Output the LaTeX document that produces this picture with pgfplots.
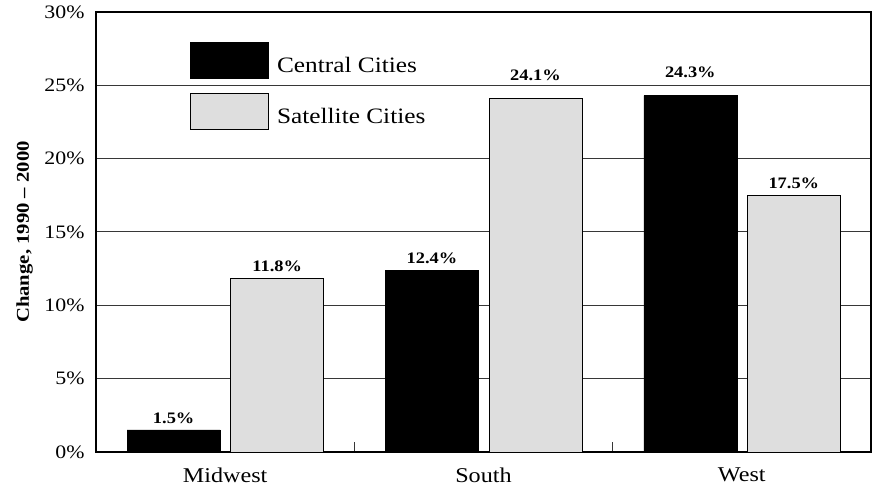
\documentclass[border=0pt]{standalone}
\usepackage{pgfplots}
\pgfplotsset{compat=1.18}
\usepackage{fontspec}
\setmainfont{Liberation Serif}[FakeStretch=1.15]

\definecolor{satgray}{RGB}{222,222,222}
\definecolor{gridgray}{RGB}{55,55,55}

\pgfplotsset{
  legbox/.style={legend image code/.code={%
    \draw[##1, line width=0.9pt] (0pt,-13pt) rectangle (78pt,23pt);}},
  % labels of bars that reach the 25% line sit above that line
  liftlabels/.style={coordinate style/.condition={\pgfkeysvalueof{/data point/y} > 24}{yshift=11pt}},
}

\begin{document}
\begin{tikzpicture}[x=1pt,y=1pt]
\useasboundingbox (-96,-37) rectangle (779,452);
\begin{axis}[
  at={(0,0)}, anchor=south west, scale only axis,
  width=775pt, height=440pt,
  xmin=-0.5, xmax=2.5, ymin=0, ymax=30,
  axis line style={black, line width=1.2pt},
  xtick={0,1,2}, xticklabels={Midwest,South,West},
  major x tick style={draw=none}, major tick length=0pt,
  minor xtick={-0.5,0.5,1.5},
  minor tick length=10pt, tick align=inside, xtick pos=bottom,
  minor x tick style={line width=1pt, gridgray},
  xticklabel style={font=\fontsize{21}{24}\selectfont, yshift=-12pt},
  ytick={0,5,10,15,20,25,30},
  yticklabels={0\%,5\%,10\%,15\%,20\%,25\%,30\%},
  ytick style={draw=none},
  yticklabel style={font=\fontsize{19}{22}\selectfont, xshift=-8pt},
  ymajorgrids, grid style={gridgray, line width=1pt},
  ylabel={Change, 1990 -- 2000},
  every axis y label/.style={at={(axis description cs:-0.092,0.5)},
    rotate=90, anchor=center, font=\fontsize{18}{20}\selectfont\bfseries},
  legend style={at={(axis description cs:0.1213,0.9318)}, anchor=north west,
    draw=none, fill=none, inner sep=0pt, row sep=14pt, column sep=6pt,
    font=\fontsize{22}{24}\selectfont},
  legend cell align=left,
  /pgf/number format/assume math mode=true,
  nodes near coords={\pgfmathprintnumber[fixed,precision=1,fixed zerofill]{\pgfplotspointmeta}\%},
  every node near coord/.append style={font=\fontsize{16}{18}\selectfont\bfseries, black, yshift=3pt},
]
% Central cities
\addplot[ybar, fill=black, draw=black, bar width=93pt, bar shift=-51.5pt, legbox, liftlabels,
  every node near coord/.append style={xshift=-51.5pt}]
  coordinates {(0,1.5) (1,12.4) (2,24.3)};
% Satellite cities
\addplot[ybar, fill=satgray, draw=black, line width=0.9pt, bar width=93pt, bar shift=52pt, legbox, liftlabels,
  every node near coord/.append style={xshift=52pt}]
  coordinates {(0,11.8) (1,24.1) (2,17.5)};
\legend{Central Cities, Satellite Cities}
\end{axis}
\end{tikzpicture}
\end{document}
